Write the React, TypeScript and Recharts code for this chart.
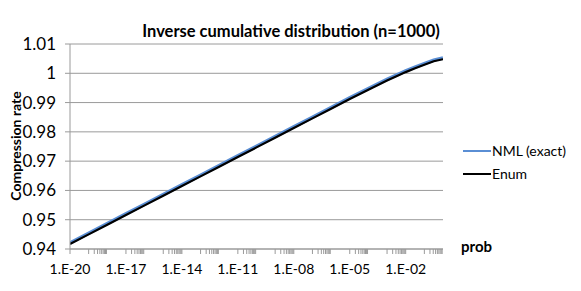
import React from "react";
import { LineChart, Line, XAxis, YAxis, CartesianGrid, Legend } from "recharts";

// values
const probs = [
  1e-20, 1e-19, 1e-18, 1e-17, 1e-16, 1e-15, 1e-14, 1e-13, 1e-12, 1e-11, 1e-10,
  1e-9, 1e-8, 1e-7, 1e-6, 1e-5, 1e-4, 1e-3, 3.2e-3, 1e-2, 3.2e-2, 1e-1, 3.2e-1, 1,
];
const nmlExact = [
  0.9421, 0.9454, 0.9487, 0.952, 0.9553, 0.9586, 0.9619, 0.9652, 0.9685, 0.9718, 0.9751,
  0.9784, 0.9817, 0.985, 0.9883, 0.9916, 0.9948, 0.9979, 0.9994, 1.0008, 1.0021, 1.0033, 1.0045, 1.0052,
];
const enumRate = [
  0.9417, 0.945, 0.9483, 0.9516, 0.9549, 0.9582, 0.9615, 0.9648, 0.9681, 0.9714, 0.9747,
  0.978, 0.9813, 0.9846, 0.9879, 0.9912, 0.9944, 0.9975, 0.999, 1.0004, 1.0017, 1.0029, 1.0041, 1.0048,
];

const yTicks = [0.94, 0.95, 0.96, 0.97, 0.98, 0.99, 1, 1.01];
const xMajorTicks = [1e-20, 1e-17, 1e-14, 1e-11, 1e-8, 1e-5, 1e-2];
const xTickLabels = ["1.E-20", "1.E-17", "1.E-14", "1.E-11", "1.E-08", "1.E-05", "1.E-02"];
// minor tick marks sit on every other decade, 1..9 x 10^d
const minorDecades = [1e-19, 1e-17, 1e-15, 1e-13, 1e-11, 1e-9, 1e-7, 1e-5, 1e-3, 1e-1];
const minorSteps = [1, 2, 3, 4, 5, 6, 7, 8, 9];

const data = probs.map((p, i) => ({ prob: p, nml: nmlExact[i], enumR: enumRate[i] }));

const xTicks = [...xMajorTicks, ...minorDecades.flatMap((d) => minorSteps.map((k) => k * d))]
  .filter((v, i, arr) => arr.findIndex((w) => Math.abs(w / v - 1) < 1e-9) === i)
  .sort((a, b) => a - b);

const FONT = "Lato, 'Open Sans', sans-serif";
const GRID = "#9a9a9a";
const BLUE = "#5a8ed4";

const majorIndex = (v: number) => xMajorTicks.findIndex((m) => Math.abs(v / m - 1) < 1e-9);

const XTick = (props: any) => {
  const { x, y, payload } = props;
  const idx = majorIndex(payload.value);
  if (idx < 0) return null;
  return (
    <text x={x} y={y} dy={18} textAnchor="middle" fontFamily={FONT} fontSize={14} fill="#000">
      {xTickLabels[idx]}
    </text>
  );
};

const LegendBox = () => (
  <div style={{ fontFamily: FONT, fontSize: 14, color: "#000" }}>
    {[
      { name: "NML (exact)", color: BLUE },
      { name: "Enum", color: "#000" },
    ].map((s) => (
      <div key={s.name} style={{ display: "flex", alignItems: "center", height: 23 }}>
        <svg width={28} height={4} style={{ marginRight: 1 }}>
          <line x1={0} y1={2} x2={28} y2={2} stroke={s.color} strokeWidth={2} />
        </svg>
        <span>{s.name}</span>
      </div>
    ))}
  </div>
);

export default function App() {
  return (
    <div style={{ position: "absolute", left: 0, top: 0, width: 581, height: 291, background: "#fff" }}>
      <LineChart width={581} height={291} data={data} margin={{ top: 44, right: 138, bottom: 0, left: 0 }}>
        <CartesianGrid vertical={false} stroke={GRID} />
        <XAxis
          dataKey="prob"
          type="number"
          scale="log"
          domain={[1e-20, 1]}
          allowDataOverflow
          ticks={xTicks}
          interval={0}
          tick={<XTick />}
          tickSize={5}
          height={42}
          stroke={GRID}
          tickLine={{ stroke: GRID }}
        />
        <YAxis
          type="number"
          domain={[0.94, 1.01]}
          ticks={yTicks}
          interval={0}
          width={70}
          tickSize={5}
          tickMargin={9}
          stroke={GRID}
          tickLine={{ stroke: GRID }}
          tick={{ fontFamily: FONT, fontSize: 17, fill: "#000" }}
          tickFormatter={(v: number) => (v === 1 ? "1" : v.toFixed(2))}
        />
        <Line dataKey="nml" name="NML (exact)" stroke={BLUE} strokeWidth={3.5} dot={false} isAnimationActive={false} />
        <Line dataKey="enumR" name="Enum" stroke="#000" strokeWidth={2.2} dot={false} isAnimationActive={false} />
        <Legend
          layout="vertical"
          align="center"
          verticalAlign="middle"
          content={<LegendBox />}
          wrapperStyle={{ position: "absolute", left: 463, top: 139, width: 118 }}
        />
      </LineChart>
      <svg width={581} height={291} style={{ position: "absolute", left: 0, top: 0, pointerEvents: "none" }}>
        <text x={291} y={37} textAnchor="middle" fontFamily={FONT} fontSize={16.5} fontWeight="bold" fill="#000">
          Inverse cumulative distribution (n=1000)
        </text>
        <text
          x={15}
          y={146}
          transform="rotate(-90 15 146)"
          textAnchor="middle"
          dominantBaseline="central"
          fontFamily={FONT}
          fontSize={14}
          fontWeight="bold"
          fill="#000"
        >
          Compression rate
        </text>
        <text x={461} y={252} fontFamily={FONT} fontSize={15} fontWeight="bold" fill="#000">
          prob
        </text>
      </svg>
    </div>
  );
}
